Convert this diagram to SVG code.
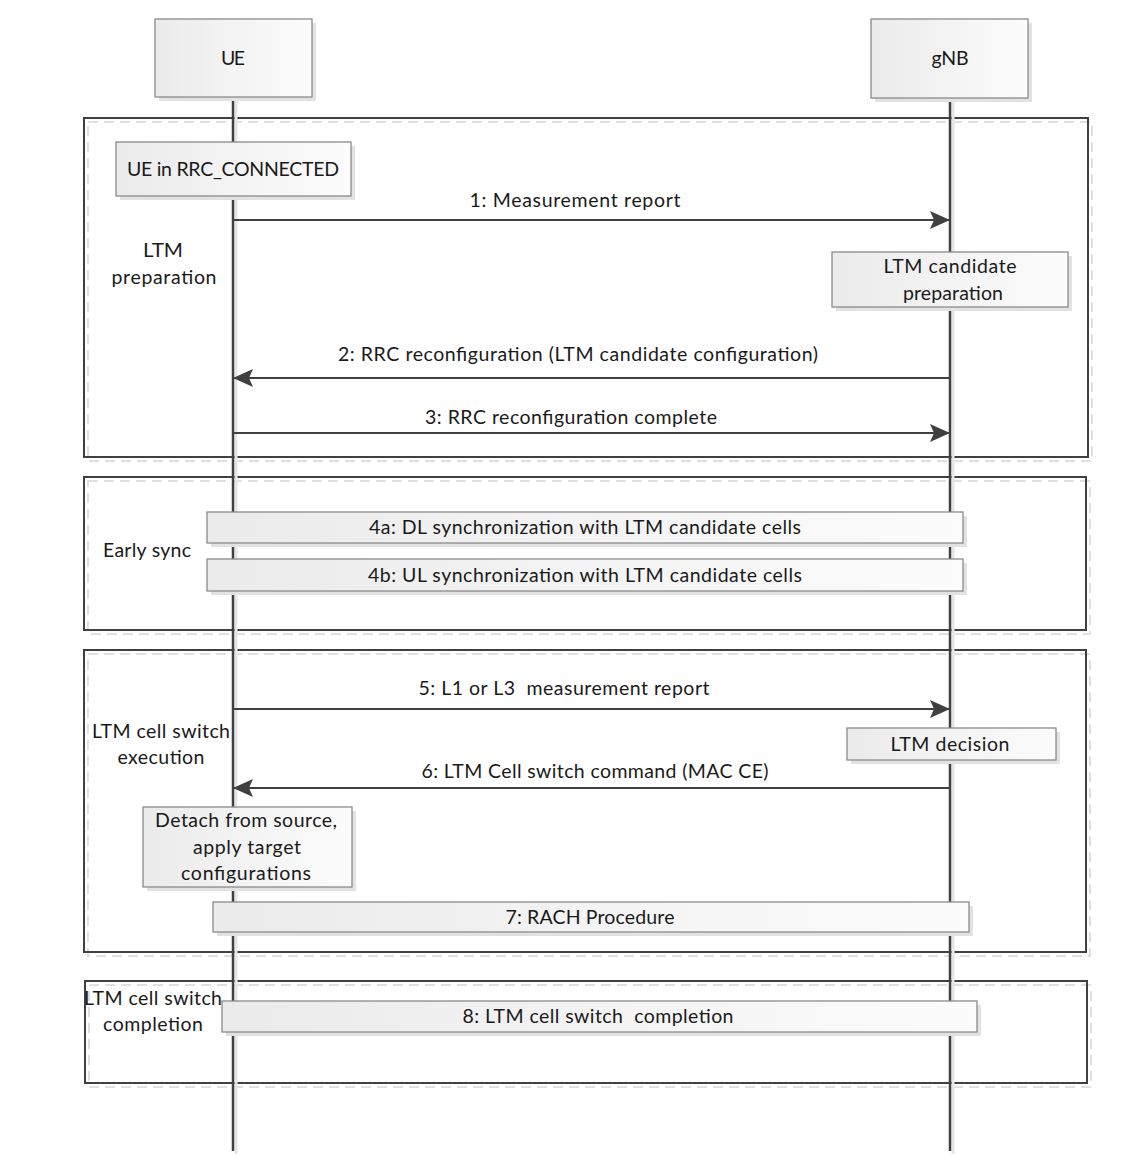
<svg xmlns="http://www.w3.org/2000/svg" width="1144" height="1175" viewBox="0 0 1144 1175">
<defs>
<linearGradient id="g" x1="0" y1="0" x2="1" y2="0">
<stop offset="0" stop-color="#ebebeb"/>
<stop offset="1" stop-color="#fcfcfc"/>
</linearGradient>
<marker id="ah" markerWidth="20" markerHeight="18" refX="20" refY="9" orient="auto" markerUnits="userSpaceOnUse">
<path d="M0,0 L20,9 L0,18 L4,9 Z" fill="#404040"/>
</marker>
<style>
text{font-family:Lato,"Liberation Sans",sans-serif;font-size:19.5px;fill:#1a1a1a;text-anchor:middle}
.frame{fill:none;stroke:#404040;stroke-width:2}
.fshadow{fill:none;stroke:#e0e0e0;stroke-width:2;stroke-dasharray:10,6}
.life{stroke:#404040;stroke-width:2.5}
.lshadow{stroke:#e6e6e6;stroke-width:3}
.box{fill:url(#g);stroke:#8a8a8a;stroke-width:1.3}
.bshadow{fill:#e2e2e2}
.msg{stroke:#404040;stroke-width:2.2;fill:none}
</style>
</defs>
<rect width="1144" height="1175" fill="#fff"/>

<g id="frames">
<rect class="fshadow" x="88" y="122" width="1004" height="339"/>
<rect class="frame" x="84" y="118" width="1004" height="339"/>
<rect class="fshadow" x="88" y="481" width="1002" height="153"/>
<rect class="frame" x="84" y="477" width="1002" height="153"/>
<rect class="fshadow" x="88" y="654" width="1002" height="302"/>
<rect class="frame" x="84" y="650" width="1002" height="302"/>
<rect class="fshadow" x="89" y="985" width="1002" height="102"/>
<rect class="frame" x="85" y="981" width="1002" height="102"/>
<text x="163" y="257" textLength="40" lengthAdjust="spacingAndGlyphs">LTM</text>
<text x="164" y="284" textLength="105">preparation</text>
<text x="147" y="557" textLength="88">Early sync</text>
<text x="161" y="738" textLength="138">LTM cell switch</text>
<text x="161" y="764" textLength="87">execution</text>
<text x="153" y="1005" textLength="138">LTM cell switch</text>
<text x="153" y="1031" textLength="100">completion</text>
</g>

<g id="lifelines">
<line class="lshadow" x1="236" y1="98" x2="236" y2="1154"/>
<line class="lshadow" x1="953" y1="98" x2="953" y2="1154"/>
<line class="life" x1="233" y1="97" x2="233" y2="1151"/>
<line class="life" x1="950" y1="98" x2="950" y2="1151"/>
</g>

<g id="node-ue">
<rect class="bshadow" x="159" y="23" width="157" height="78"/>
<rect class="box" x="155" y="19" width="157" height="78"/>
<text x="233" y="65" textLength="24">UE</text>
</g>
<g id="node-gnb">
<rect class="bshadow" x="875" y="23" width="157" height="79"/>
<rect class="box" x="871" y="19" width="157" height="79"/>
<text x="950" y="65" textLength="37">gNB</text>
</g>

<g id="node-rrc-connected">
<rect class="bshadow" x="120" y="146" width="235" height="54"/>
<rect class="box" x="116" y="142" width="235" height="54"/>
<text x="233" y="176" textLength="212">UE in RRC_CONNECTED</text>
</g>
<g id="node-ltm-cand-prep">
<rect class="bshadow" x="836" y="256" width="236" height="55"/>
<rect class="box" x="832" y="252" width="236" height="55"/>
<text x="950" y="273" textLength="133">LTM candidate</text>
<text x="953" y="300" textLength="100">preparation</text>
</g>
<g id="node-4a">
<rect class="bshadow" x="211" y="516" width="756" height="31"/>
<rect class="box" x="207" y="512" width="756" height="31"/>
<text x="585" y="534" textLength="432">4a: DL synchronization with LTM candidate cells</text>
</g>
<g id="node-4b">
<rect class="bshadow" x="211" y="563" width="756" height="32"/>
<rect class="box" x="207" y="559" width="756" height="32"/>
<text x="585" y="582" textLength="434">4b: UL synchronization with LTM candidate cells</text>
</g>
<g id="node-ltm-decision">
<rect class="bshadow" x="851" y="732" width="209" height="32"/>
<rect class="box" x="847" y="728" width="209" height="32"/>
<text x="950" y="751" textLength="119">LTM decision</text>
</g>
<g id="node-detach">
<rect class="bshadow" x="147" y="811" width="209" height="80"/>
<rect class="box" x="143" y="807" width="209" height="80"/>
<text x="246" y="827" textLength="182">Detach from source,</text>
<text x="247" y="854" textLength="108">apply target</text>
<text x="246" y="880" textLength="130">configurations</text>
</g>
<g id="node-rach">
<rect class="bshadow" x="217" y="906" width="756" height="30"/>
<rect class="box" x="213" y="902" width="756" height="30"/>
<text x="590" y="924" textLength="169">7: RACH Procedure</text>
</g>
<g id="node-completion">
<rect class="bshadow" x="226" y="1005" width="755" height="31"/>
<rect class="box" x="222" y="1001" width="755" height="31"/>
<text x="598" y="1023" textLength="271" xml:space="preserve">8: LTM cell switch  completion</text>
</g>

<g id="connectors">
<line class="msg" x1="233" y1="220" x2="950" y2="220" marker-end="url(#ah)"/>
<text x="575" y="207" textLength="211">1: Measurement report</text>
<line class="msg" x1="950" y1="378" x2="233" y2="378" marker-end="url(#ah)"/>
<text x="578" y="361" textLength="480">2: RRC reconfiguration (LTM candidate configuration)</text>
<line class="msg" x1="233" y1="433" x2="950" y2="433" marker-end="url(#ah)"/>
<text x="571" y="424" textLength="292">3: RRC reconfiguration complete</text>
<line class="msg" x1="233" y1="709" x2="950" y2="709" marker-end="url(#ah)"/>
<text x="564" y="695" textLength="291" xml:space="preserve">5: L1 or L3  measurement report</text>
<line class="msg" x1="950" y1="788" x2="233" y2="788" marker-end="url(#ah)"/>
<text x="595" y="778" textLength="347">6: LTM Cell switch command (MAC CE)</text>
</g>
</svg>
